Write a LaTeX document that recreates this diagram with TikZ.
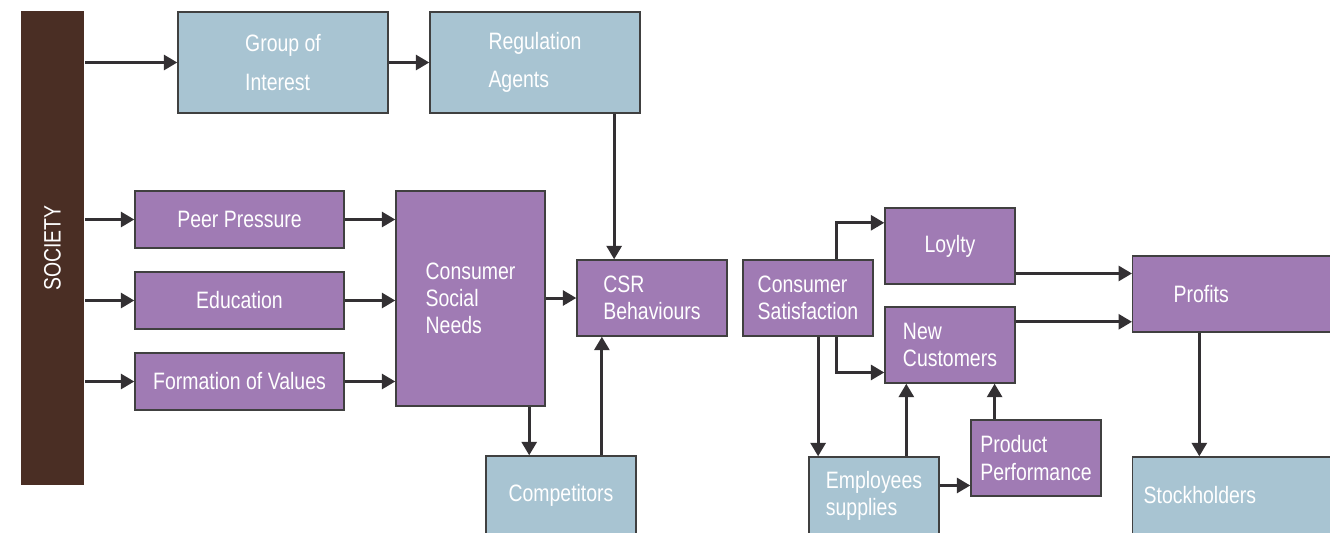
\documentclass[tikz,border=0pt]{standalone}
\usepackage{fontspec}
\setmainfont{Liberation Sans}[FakeStretch=0.82]
\usetikzlibrary{arrows.meta,calc}

\definecolor{barbrown}{HTML}{4A2E24}
\definecolor{boxpurple}{HTML}{A07BB4}
\definecolor{boxblue}{HTML}{A8C4D2}
\definecolor{edgegray}{HTML}{404040}
\definecolor{arrowdark}{HTML}{333033}

\begin{document}
\begin{tikzpicture}[
		x=0.02cm,
		y=-0.02cm,
		>={Triangle[length=0.27cm,width=0.3cm]},
		line width=1.7pt,
		box/.style={draw=edgegray,line width=0.8pt,text=white,align=left,inner sep=0pt,font=\fontsize{13.5}{15.4}\selectfont},
		purplebox/.style={box,fill=boxpurple},
		bluebox/.style={box,fill=boxblue},
		topbox/.style={bluebox,minimum width=4.2cm,minimum height=2.02cm,font=\fontsize{13.5}{22}\selectfont},
		inbox/.style={purplebox,minimum width=4.18cm,minimum height=1.14cm},
		smallbox/.style={minimum width=2.6cm,minimum height=1.52cm}
		]
		\useasboundingbox (0,0) rectangle (1330,532);
		\clip (0,0) rectangle (1330,532);
		\node (soc) [fill=barbrown,text=white,minimum width=1.26cm,minimum height=9.48cm,inner sep=0pt,font=\fontsize{13.5}{15.4}\selectfont] at (52.5,248) {\rotatebox{90}{SOCIETY}};
		\node (grp) [topbox] at (283,62.5) {Group of\\Interest};
		\node (reg) [topbox] at (535,62.5) {Regulation\\Agents};
		\node (peer) [inbox] at (239.5,219.5) {Peer Pressure};
		\node (edu) [inbox] at (239.5,300.5) {Education};
		\node (val) [inbox] at (239.5,381.5) {Formation of Values};
		\node (csn) [purplebox,minimum width=2.98cm,minimum height=4.3cm] at (470.5,298.5) {Consumer\\Social\\Needs};
		\node (csr) [purplebox,minimum width=3cm,minimum height=1.52cm] at (652,298) {CSR\\Behaviours};
		\node (comp) [bluebox,minimum width=3cm,minimum height=1.56cm] at (561,495) {Competitors};
		\node (sat) [purplebox,smallbox] at (808,298) {Consumer\\Satisfaction};
		\node (loy) [purplebox,smallbox] at (950,246) {Loylty};
		\node (newc) [purplebox,smallbox] at (950,345) {New\\Customers};
		\node (prod) [purplebox,smallbox] at (1036,458) {Product\\Performance};
		\node (emp) [bluebox,smallbox,minimum height=1.54cm] at (874,495.5) {Employees\\supplies};
		\node (prof) [purplebox,anchor=west,minimum width=4.96cm,minimum height=1.52cm,inner xsep=0.82cm,text width=3.32cm] at (1132,294) {Profits};
		\node (stock) [bluebox,anchor=west,minimum width=4.96cm,minimum height=1.54cm,inner xsep=0.22cm,text width=4.52cm] at (1132,495.5) {Stockholders};
		\begin{scope}[->,draw=arrowdark]
		\draw (soc.east |- grp) -- (grp);
		\draw (grp) -- (reg);
		\draw (soc.east |- peer) -- (peer);
		\draw (soc.east |- edu) -- (edu);
		\draw (soc.east |- val) -- (val);
		\draw (peer) -- (csn.west |- peer);
		\draw (edu) -- (csn.west |- edu);
		\draw (val) -- (csn.west |- val);
		\draw (csn.east |- csr) -- (csr);
		\coordinate (csrtop) at ($(csr.north west)!0.25!(csr.north east)$);
		\draw (reg.south -| csrtop) -- (csrtop);
		\coordinate (comptop) at ($(comp.north west)!0.29!(comp.north east)$);
		\draw (csn.south -| comptop) -- (comptop);
		\coordinate (compup) at ($(comp.north west)!0.77!(comp.north east)$);
		\draw (compup) -- (compup |- csr.south);
		\coordinate (satup) at ($(sat.north west)!0.72!(sat.north east)$);
		\draw (satup) |- ($(loy.north west)!0.2!(loy.south west)$);
		\coordinate (satdown) at ($(sat.south west)!0.72!(sat.south east)$);
		\draw (satdown) |- ($(newc.north west)!0.855!(newc.south west)$);
		\coordinate (satemp) at ($(sat.south west)!0.577!(sat.south east)$);
		\draw (satemp) -- (satemp |- emp.north);
		\coordinate (empup) at ($(emp.north west)!0.746!(emp.north east)$);
		\draw (empup) -- (empup |- newc.south);
		\coordinate (prodin) at ($(prod.north west)!0.855!(prod.south west)$);
		\draw (emp.east |- prodin) -- (prodin);
		\coordinate (produp) at ($(prod.north west)!0.185!(prod.north east)$);
		\draw (produp) -- (produp |- newc.south);
		\coordinate (loyout) at ($(loy.north east)!0.855!(loy.south east)$);
		\draw (loyout) -- (loyout -| prof.west);
		\coordinate (newout) at ($(newc.north east)!0.2!(newc.south east)$);
		\draw (newout) -- (newout -| prof.west);
		\coordinate (profdown) at ($(prof.south west)!0.27!(prof.south east)$);
		\draw (profdown) -- (profdown |- stock.north);
		\end{scope}
\end{tikzpicture}
\end{document}
